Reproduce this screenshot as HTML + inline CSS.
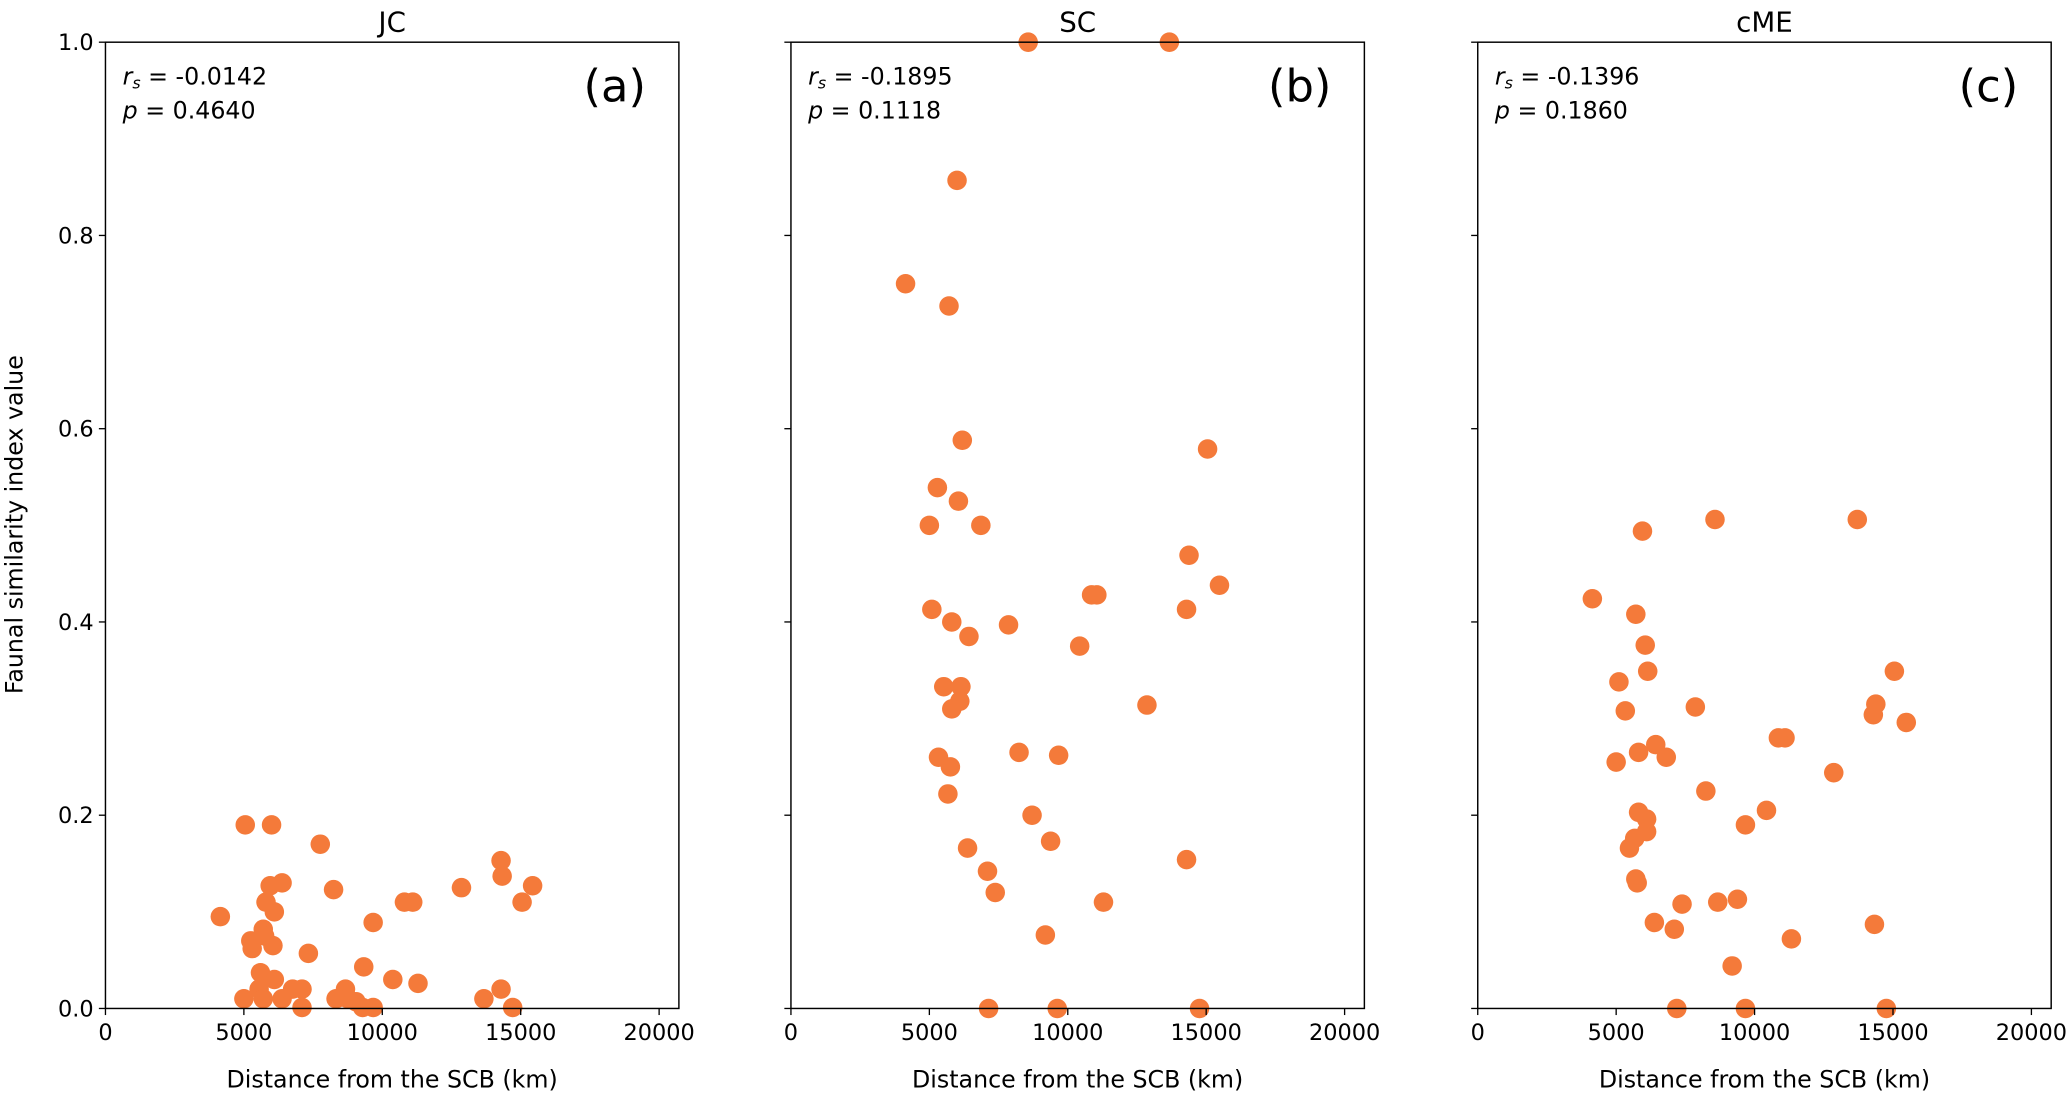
<!DOCTYPE html>
<html><head><meta charset="utf-8"><style>
html,body{margin:0;padding:0;background:#fff;}
svg{display:block;font-family:"DejaVu Sans","Liberation Sans",sans-serif;}
</style></head><body>
<svg id="chart" width="2067" height="1096" viewBox="0 0 1568 831.4" xmlns="http://www.w3.org/2000/svg"></svg>
<script>
const panelTitles = ["JC", "SC", "cME"];
const panelLetters = ["(a)", "(b)", "(c)"];
const rsValues = ["-0.0142", "-0.1895", "-0.1396"];
const pValues = ["0.4640", "0.1118", "0.1860"];
const xTicks = [0, 5000, 10000, 15000, 20000];
const yTicks = [0, 0.2, 0.4, 0.6, 0.8, 1.0];
const jcX = [4150,5050,6000,5250,5300,5700,5750,5800,5950,6100,6380,6050,5600,6100,5550,5000,5700,6380,6760,7100,7100,7330,7760,8240,8330,8670,8760,9050,9290,9670,9330,9670,10380,10800,11100,11290,12860,13670,14290,14330,14290,14710,15050,15430];
const jcY = [0.095,0.19,0.19,0.07,0.062,0.082,0.075,0.11,0.127,0.10,0.13,0.065,0.037,0.03,0.02,0.01,0.01,0.01,0.02,0.02,0.001,0.057,0.17,0.123,0.01,0.02,0.01,0.007,0.001,0.001,0.043,0.089,0.03,0.11,0.11,0.026,0.125,0.01,0.153,0.137,0.02,0.001,0.11,0.127];
const scX = [4140,8570,13670,6000,5710,6190,5290,6050,5000,6860,15050,14380,15480,5090,5810,6430,7860,10860,11050,14290,10430,5520,6140,6100,5810,12860,5330,5760,5670,8240,9670,8710,9380,6380,14290,7100,7380,11290,9190,7140,9620,14760];
const scY = [0.75,1.0,1.0,0.857,0.727,0.588,0.539,0.525,0.50,0.50,0.579,0.469,0.438,0.413,0.40,0.385,0.397,0.428,0.428,0.413,0.375,0.333,0.333,0.318,0.31,0.314,0.26,0.25,0.222,0.265,0.262,0.2,0.173,0.166,0.154,0.142,0.12,0.11,0.076,0,0,0];
const cmeX = [4140,5950,8570,13710,5710,6050,6140,5100,5330,15050,14380,14290,15480,5000,5810,6430,6810,7860,10860,11100,12860,8240,10430,9670,5810,6100,6100,5480,5670,5710,5760,6380,7380,8670,9380,7100,11330,14330,9190,7190,9670,14760];
const cmeY = [0.424,0.494,0.506,0.506,0.408,0.376,0.349,0.338,0.308,0.349,0.315,0.304,0.296,0.255,0.265,0.273,0.26,0.312,0.28,0.28,0.244,0.225,0.205,0.19,0.203,0.196,0.183,0.166,0.176,0.134,0.13,0.089,0.108,0.11,0.113,0.082,0.072,0.087,0.044,0,0,0];
const seriesX = [jcX, scX, cmeX];
const seriesY = [jcY, scY, cmeY];

const NS = "http://www.w3.org/2000/svg";
const svg = document.getElementById("chart");
const panelLeft = [80, 600, 1121];
const W = 435, TOP = 32, BOTTOM = 765;
const XMAX = W / 0.021;
function mk(tag, attrs, parent) {
  const e = document.createElementNS(NS, tag);
  for (const k in attrs) e.setAttribute(k, attrs[k]);
  (parent || svg).appendChild(e);
  return e;
}
function yScale(v) { return BOTTOM - (BOTTOM - TOP) * v; }

for (let p = 0; p < 3; p++) {
  const L = panelLeft[p];
  const xScale = v => L + v / XMAX * W;
  const g = mk("g", {});
  
  
  // points
  const pts = mk("g", {}, g);
  
  
  for (let i = 0; i < seriesX[p].length; i++) {
    const c = mk("circle", {cx: xScale(seriesX[p][i]), cy: yScale(seriesY[p][i]), r: 7.4, fill: "#F47A3A"}, pts);
    
    
  }
  // frame
  const fr = mk("rect", {x: L, y: TOP, width: W, height: BOTTOM - TOP, fill: "none", stroke: "#000", "stroke-width": 1.1}, g);
  
  
  // x ticks
  for (const t of xTicks) {
    const x = xScale(t);
    mk("line", {x1: x, x2: x, y1: BOTTOM, y2: BOTTOM + 5, stroke: "#000", "stroke-width": 1}, g);
    const tx = mk("text", {x: x, y: BOTTOM + 24, "font-size": 17, "text-anchor": "middle", fill: "#000"}, g);
    
    
    tx.textContent = t;
  }
  // y ticks
  for (const t of yTicks) {
    const y = yScale(t);
    mk("line", {x1: L - 5, x2: L, y1: y, y2: y, stroke: "#000", "stroke-width": 1}, g);
    if (p === 0) {
      const ty = mk("text", {x: L - 9, y: y + 6, "font-size": 17, "text-anchor": "end", fill: "#000"}, g);
      
      
      ty.textContent = t.toFixed(1);
    }
  }
  const xl = mk("text", {x: L + W / 2, y: 825, "font-size": 18, "text-anchor": "middle", fill: "#000"}, g);
  
  
  xl.textContent = "Distance from the SCB (km)";
  const tt = mk("text", {x: L + W / 2, y: 24, "font-size": 21, "text-anchor": "middle", fill: "#000"}, g);
  
  
  tt.textContent = panelTitles[p];
  const lt = mk("text", {x: L + W - 25, y: 77, "font-size": 34, "text-anchor": "end", fill: "#000"}, g);
  
  
  lt.textContent = panelLetters[p];
  const rs = mk("text", {x: L + 13, y: 64, "font-size": 18, fill: "#000"}, g);
  
  
  rs.innerHTML = '<tspan font-style="italic">r</tspan><tspan font-style="italic" font-size="12" dy="3">s</tspan><tspan dy="-3"> = ' + rsValues[p] + '</tspan>';
  const pv = mk("text", {x: L + 13, y: 90, "font-size": 18, fill: "#000"}, g);
  
  
  pv.innerHTML = '<tspan font-style="italic">p</tspan> = ' + pValues[p];
}
const yl = mk("text", {x: 0, y: 0, "font-size": 18, "text-anchor": "middle", fill: "#000", transform: "translate(17,398) rotate(-90)"});


yl.textContent = "Faunal similarity index value";
</script>
</body></html>
